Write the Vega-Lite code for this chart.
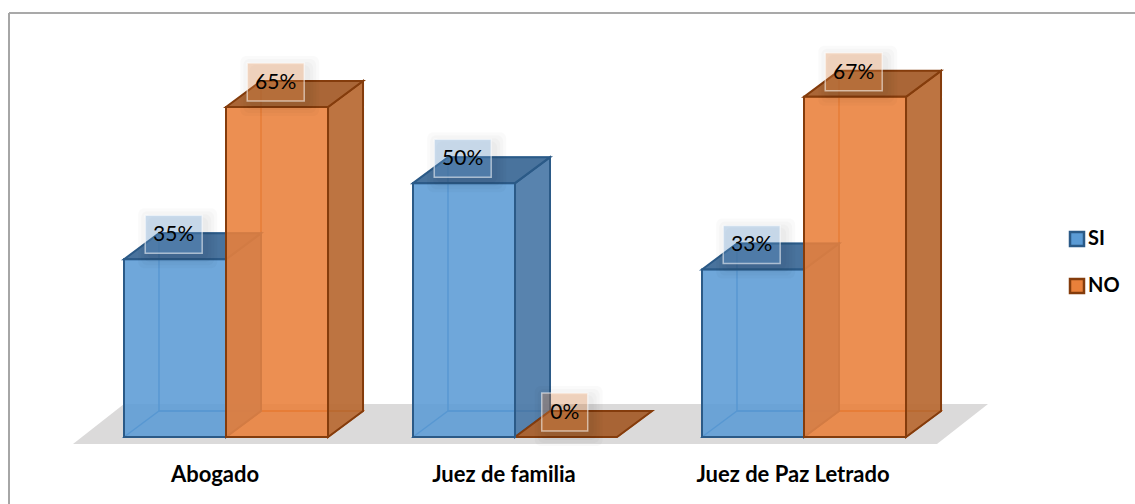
{
"$schema":"https://vega.github.io/schema/vega-lite/v6.json",
"width":1126,"height":491,
"autosize":"none",
"padding":{"left":9,"top":13,"right":0,"bottom":0},
"background":"white",
"config":{"view":{"stroke":null},"font":"Lato"},
"datasets":{
"bars":[
{"categoria":"Abogado","serie":"SI","valor":35},
{"categoria":"Abogado","serie":"NO","valor":65},
{"categoria":"Juez de familia","serie":"SI","valor":50},
{"categoria":"Juez de familia","serie":"NO","valor":0},
{"categoria":"Juez de Paz Letrado","serie":"SI","valor":33},
{"categoria":"Juez de Paz Letrado","serie":"NO","valor":67}
],
"suelo":[
{"x":-0.5294,"y":-1.379,"y2":-1.379},
{"x":-0.3529,"y":6.5,"y2":-1.379},
{"x":2.4602,"y":6.5,"y2":-1.379},
{"x":2.6367,"y":6.5,"y2":6.5}
]
},
"data":{"name":"bars"},
"layer":[
{"data":{"name":"suelo"},"mark":{"type":"area","fill":"#DBDADA"},
"encoding":{
"x":{"field":"x","type":"quantitative","axis":null,"scale":{"domain":[-0.7509,3.1453],"nice":false,"zero":false}},
"y":{"field":"y","type":"quantitative","axis":null,"scale":{"domain":[-13.197,83.51],"nice":false,"zero":false}},
"y2":{"field":"y2"}}},
{"data":{"values":[{"borde":"superior"}]},"mark":{"type":"rule","stroke":"#8C8C8C","strokeWidth":1.5},
"encoding":{"y":{"datum":83.51,"type":"quantitative","axis":null}}},
{"data":{"values":[{"borde":"izquierdo"}]},"mark":{"type":"rule","stroke":"#A6A6A6","strokeWidth":2},
"encoding":{"x":{"datum":-0.7509,"type":"quantitative","axis":null,"scale":{"domain":[-0.7509,3.1453],"nice":false,"zero":false}}}},
{"transform":[
{"calculate":"indexof(['Abogado','Juez de familia','Juez de Paz Letrado'],datum.categoria)","as":"i"},
{"calculate":"datum.i+(datum.serie=='SI'?-0.353:0)","as":"L"},
{"calculate":"datum.L+0.353","as":"R"}
],
"layer":[
{"transform":[{"calculate":"datum.L+0.1211","as":"bx"},{"calculate":"datum.R+0.1211","as":"bx2"},{"calculate":"datum.valor+5.12","as":"by"},{"calculate":"5.12","as":"by2"}],
"mark":{"type":"bar","fillOpacity":0,"strokeWidth":1.5},
"encoding":{
"x":{"field":"bx","type":"quantitative","axis":null,"scale":{"domain":[-0.7509,3.1453],"nice":false,"zero":false}},
"x2":{"field":"bx2"},
"y":{"field":"by","type":"quantitative","axis":null},
"y2":{"field":"by2"},
"stroke":{"condition":{"test":"datum.serie=='SI'","value":"#3F7DB8"},"value":"#D5661C"}}},
{"transform":[{"calculate":"[0,1,2,3]","as":"v"},{"flatten":["v"]},
{"calculate":"[datum.L,datum.L+0.1211,datum.R,datum.R+0.1211][datum.v]","as":"fx"},
{"calculate":"[0,5.12,5.12,5.12][datum.v]","as":"fy"},
{"calculate":"[0,0,0,5.12][datum.v]","as":"fy2"}],
"mark":{"type":"area","fillOpacity":0,"strokeWidth":1.5},
"encoding":{
"x":{"field":"fx","type":"quantitative","axis":null},
"y":{"field":"fy","type":"quantitative","axis":null},
"y2":{"field":"fy2"},
"detail":[{"field":"categoria"},{"field":"serie"}],
"stroke":{"condition":{"test":"datum.serie=='SI'","value":"#3F7DB8"},"value":"#D5661C"}}},
{"transform":[{"calculate":"[0,1]","as":"v"},{"flatten":["v"]},
{"calculate":"datum.R+datum.v*0.1211","as":"fx"},
{"calculate":"datum.valor+datum.v*5.12","as":"fy"},
{"calculate":"datum.v*5.12","as":"fy2"},
{"filter":"datum.valor>0"}],
"mark":{"type":"area","fillOpacity":0.93,"strokeWidth":2},
"encoding":{
"x":{"field":"fx","type":"quantitative","axis":null},
"y":{"field":"fy","type":"quantitative","axis":null},
"y2":{"field":"fy2"},
"detail":[{"field":"categoria"},{"field":"serie"}],
"fill":{"condition":{"test":"datum.serie=='SI'","value":"#4B7AA8"},"value":"#B86933"},
"stroke":{"condition":{"test":"datum.serie=='SI'","value":"#2B5A87"},"value":"#843C0C"}}},
{"transform":[{"calculate":"[0,1,2,3]","as":"v"},{"flatten":["v"]},
{"calculate":"[datum.L,datum.L+0.1211,datum.R,datum.R+0.1211][datum.v]","as":"fx"},
{"calculate":"datum.valor+[0,5.12,5.12,5.12][datum.v]","as":"fy"},
{"calculate":"datum.valor+[0,0,0,5.12][datum.v]","as":"fy2"}],
"mark":{"type":"area","fillOpacity":0.95,"strokeWidth":2},
"encoding":{
"x":{"field":"fx","type":"quantitative","axis":null},
"y":{"field":"fy","type":"quantitative","axis":null},
"y2":{"field":"fy2"},
"detail":[{"field":"categoria"},{"field":"serie"}],
"fill":{"condition":{"test":"datum.serie=='SI'","value":"#3F6B98"},"value":"#A55E2C"},
"stroke":{"condition":{"test":"datum.serie=='SI'","value":"#2B5A87"},"value":"#843C0C"}}}
]},
{"transform":[{"filter":"datum.valor>0"}],
"mark":{"type":"bar","fillOpacity":0.88,"strokeWidth":2},
"encoding":{
"x":{"field":"categoria","type":"nominal","sort":["Abogado","Juez de familia","Juez de Paz Letrado"],
"scale":{"type":"band","domain":["Abogado","Juez de familia","Juez de Paz Letrado"],"range":[72.5,939.5],"paddingInner":0,"paddingOuter":0},
"axis":{"title":null,"domain":false,"ticks":false,"labelAngle":0,"orient":"bottom","offset":-40,"labelPadding":0,"labelOffset":-11,"labelFontSize":22,"labelFontWeight":"bold","labelFont":"Lato","labelColor":"#000000","labelLimit":0,"labelOverlap":false,"grid":false}},
"xOffset":{"field":"serie","type":"nominal","sort":["SI","NO"],"scale":{"domain":["SI","NO"],"paddingInner":0,"paddingOuter":0.4167}},
"y":{"field":"valor","type":"quantitative","stack":null,"axis":null},
"fill":{"field":"serie","type":"nominal","sort":["SI","NO"],
"scale":{"domain":["SI","NO"],"range":["#5B9BD5","#E9803A"]},
"legend":{"title":null,"orient":"none","legendX":1058,"legendY":216,"symbolType":"square","symbolSize":196,"symbolStrokeWidth":2.5,"symbolOpacity":1,"labelFontSize":20,"labelFontWeight":"bold","labelFont":"Lato","labelColor":"#000000","rowPadding":23,"labelOffset":1,"padding":0}},
"stroke":{"field":"serie","type":"nominal","sort":["SI","NO"],
"scale":{"domain":["SI","NO"],"range":["#2B5A87","#843C0C"]}}}},
{"transform":[
{"calculate":"indexof(['Abogado','Juez de familia','Juez de Paz Letrado'],datum.categoria)","as":"i"},
{"calculate":"datum.i+(datum.serie=='SI'?-0.353:0)+0.172","as":"cx"},
{"calculate":"datum.valor+5.12-0.2","as":"cy"},
{"calculate":"(datum.valor==0?23:28.5)/289","as":"hw"}
],
"layer":[
{"transform":[{"calculate":"[2,5,8,11]","as":"g"},{"flatten":["g"]},
{"calculate":"datum.cx-datum.hw+(4-datum.g)/289","as":"sx"},
{"calculate":"datum.cx+datum.hw+(4+datum.g)/289","as":"sx2"},
{"calculate":"datum.cy+(19-4+datum.g)/5.077","as":"sy"},
{"calculate":"datum.cy+(-19-4-datum.g)/5.077","as":"sy2"}],
"mark":{"type":"bar","fill":"#000000","fillOpacity":0.02,"cornerRadius":6},
"encoding":{
"x":{"field":"sx","type":"quantitative","axis":null,"scale":{"domain":[-0.7509,3.1453],"nice":false,"zero":false}},
"x2":{"field":"sx2"},
"y":{"field":"sy","type":"quantitative","axis":null},
"y2":{"field":"sy2"}}},
{"transform":[
{"calculate":"datum.cx-datum.hw","as":"bx"},{"calculate":"datum.cx+datum.hw","as":"bx2"},
{"calculate":"datum.cy+19/5.077","as":"by"},{"calculate":"datum.cy-19/5.077","as":"by2"}],
"mark":{"type":"bar","fillOpacity":0.3,"stroke":"#FFFFFF","strokeOpacity":0.55,"strokeWidth":1.5},
"encoding":{
"x":{"field":"bx","type":"quantitative","axis":null},
"x2":{"field":"bx2"},
"y":{"field":"by","type":"quantitative","axis":null},
"y2":{"field":"by2"},
"fill":{"condition":{"test":"datum.serie=='SI'","value":"#6FAAE0"},"value":"#F59450"}}},
{"transform":[{"calculate":"datum.valor+'%'","as":"etiqueta"}],
"mark":{"type":"text","fontSize":21,"font":"Lato","color":"#000000","align":"center","baseline":"middle","dy":1},
"encoding":{
"x":{"field":"cx","type":"quantitative","axis":null},
"y":{"field":"cy","type":"quantitative","axis":null},
"text":{"field":"etiqueta"}}}
]}
],
"resolve":{"scale":{"x":"independent"}}
}
